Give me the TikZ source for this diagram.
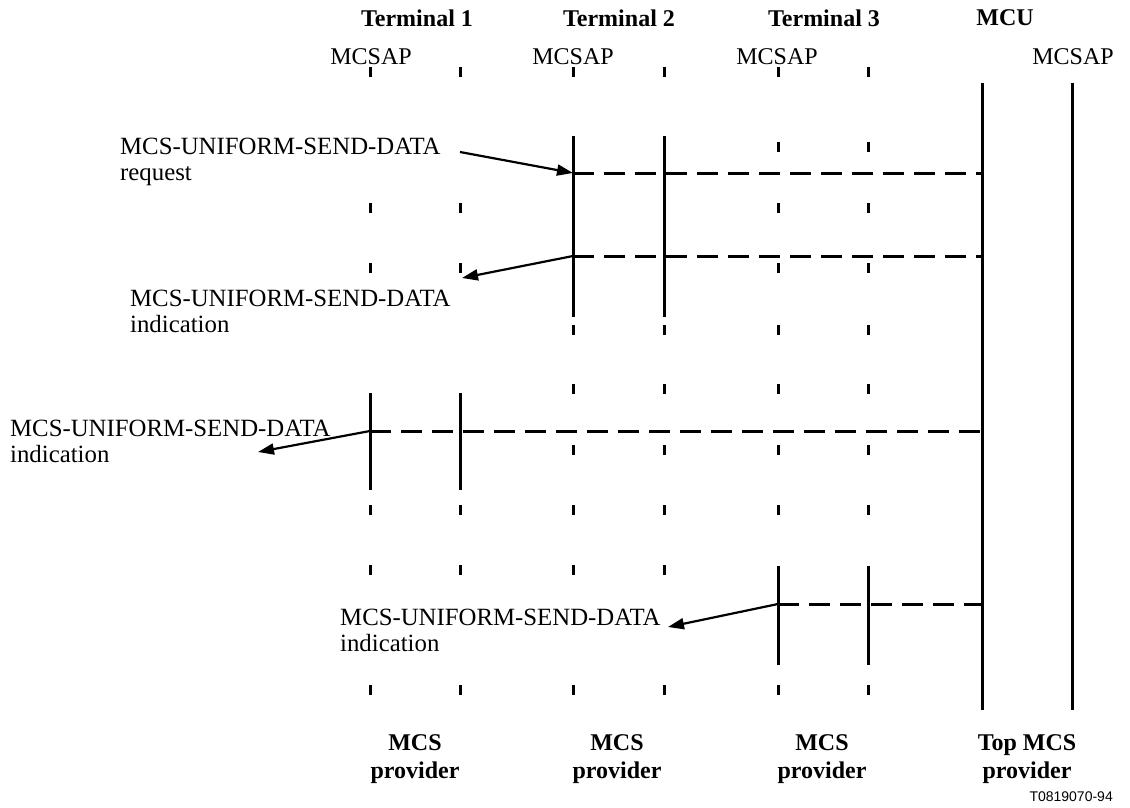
\documentclass[tikz,border=0pt]{standalone}
\usepackage{fontspec}
\setmainfont{Liberation Serif}
\newfontfamily\figsans{Liberation Sans}
\usetikzlibrary{arrows.meta}
\begin{document}
\begin{tikzpicture}[x=1pt,y=-1pt,
  life/.style={line width=3pt},
  tickmark/.style={line width=3pt},
  msg/.style={line width=3pt, dash pattern=on 21pt off 10pt},
  arr/.style={line width=2.2pt,-{Triangle[length=16pt,width=11pt]}},
  lbl/.style={font=\fontsize{24.8}{26}\selectfont, align=left, anchor=west, inner sep=0pt},
  head/.style={font=\fontsize{24}{28}\selectfont\bfseries, inner sep=0pt},
  foot/.style={font=\fontsize{24}{28}\selectfont\bfseries, align=center, inner sep=0pt},
  sap/.style={font=\fontsize{24}{28}\selectfont, inner sep=0pt}]
\useasboundingbox (0,0) rectangle (1130,808);

% headers
\node[head] (h1) at (417,18) {Terminal 1};
\node[head] (h2) at (619,18) {Terminal 2};
\node[head] (h3) at (824,18) {Terminal 3};
\node[head] (h4) at (1005,18) {MCU};
\node[sap] (s1) at (371,57) {MCSAP};
\node[sap] (s2) at (573,57) {MCSAP};
\node[sap] (s3) at (777,57) {MCSAP};
\node[sap] (s4) at (1073,57) {MCSAP};

% footers
\node[foot] (f1) at (415,759) {MCS\\provider};
\node[foot] (f2) at (617,759) {MCS\\provider};
\node[foot] (f3) at (822,759) {MCS\\provider};
\node[foot] (f4) at (1027,759) {Top MCS\\provider};
\node[font=\figsans\fontsize{14}{16}\selectfont, anchor=east, inner sep=0pt] (code) at (1113,797) {T0819070-94};

% ticks
\foreach \x/\ys in {370/{72,208,268,510,570,690},460/{72,208,268,510,570,690},
                    573/{72,330,389,450,510,570,690},664/{72,330,389,450,510,570,690},
                    778/{72,147,208,268,330,389,450,510,690},868/{72,147,208,268,330,389,450,510,690}}
  \foreach \y in \ys
    \draw[tickmark] (\x,{\y-5}) -- (\x,{\y+5});

% MCU lifelines
\coordinate (mcuA-top) at (982,83);   \coordinate (mcuA-bot) at (982,710);
\coordinate (mcuB-top) at (1072,83);  \coordinate (mcuB-bot) at (1072,710);
\draw[life] (mcuA-top) -- (mcuA-bot);
\draw[life] (mcuB-top) -- (mcuB-bot);

% Terminal 2 active
\coordinate (t2a-top) at (573,136); \coordinate (t2a-bot) at (573,317);
\coordinate (t2b-top) at (664,136); \coordinate (t2b-bot) at (664,317);
\draw[life] (t2a-top) -- (t2a-bot);
\draw[life] (t2b-top) -- (t2b-bot);

% Terminal 1 active
\coordinate (t1a-top) at (370,393); \coordinate (t1a-bot) at (370,490);
\coordinate (t1b-top) at (460,393); \coordinate (t1b-bot) at (460,490);
\draw[life] (t1a-top) -- (t1a-bot);
\draw[life] (t1b-top) -- (t1b-bot);

% Terminal 3 active
\coordinate (t3a-top) at (778,566); \coordinate (t3a-bot) at (778,665);
\coordinate (t3b-top) at (868,566); \coordinate (t3b-bot) at (868,665);
\draw[life] (t3a-top) -- (t3a-bot);
\draw[life] (t3b-top) -- (t3b-bot);

% messages
\coordinate (req-t2) at (573,173);  \coordinate (req-mcu) at (982,173);
\coordinate (ind1-t2) at (573,256); \coordinate (ind1-mcu) at (982,256);
\coordinate (ind2-t1) at (370,431); \coordinate (ind2-mcu) at (982,431);
\coordinate (ind3-t3) at (778,604); \coordinate (ind3-mcu) at (982,604);
\draw[msg] (req-t2) -- (req-mcu);
\draw[msg] (ind1-t2) -- (ind1-mcu);
\draw[msg] (ind2-t1) -- (ind2-mcu);
\draw[msg] (ind3-t3) -- (ind3-mcu);

% labels
\node[lbl] (lreq)  at (120,162) {MCS-UNIFORM-SEND-DATA\\request};
\node[lbl] (lind1) at (130,311) {MCS-UNIFORM-SEND-DATA\\indication};
\node[lbl] (lind2) at (10,441)  {MCS-UNIFORM-SEND-DATA\\indication};
\node[lbl] (lind3) at (340,630) {MCS-UNIFORM-SEND-DATA\\indication};

% arrows
\coordinate (req-tail) at (460,152);
\coordinate (ind1-tip) at (462,278);
\coordinate (ind2-tip) at (258,452);
\coordinate (ind3-tip) at (668,627);
\draw[arr] (req-tail) -- (req-t2);
\draw[arr] (ind1-t2) -- (ind1-tip);
\draw[arr] (ind2-t1) -- (ind2-tip);
\draw[arr] (ind3-t3) -- (ind3-tip);
\end{tikzpicture}
\end{document}
